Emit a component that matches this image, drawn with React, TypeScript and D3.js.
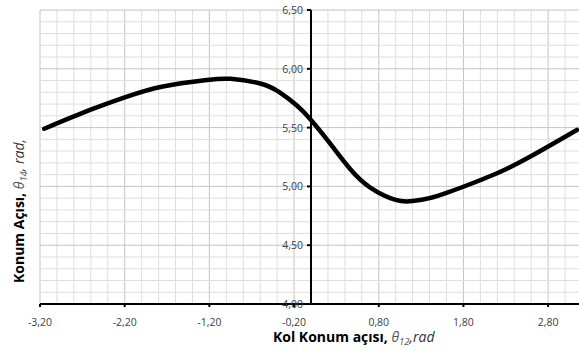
import React, { useEffect, useRef } from 'react';
import * as d3 from 'd3';

// curve
const theta12 = [-3.15, -2.61, -2.19, -1.75, -1.23, -0.95, -0.6, -0.37, -0.17, 0, 0.22, 0.46, 0.7, 1.0, 1.2, 1.4, 1.6, 1.79, 2.19, 2.58, 3.14];
const theta14 = [5.49, 5.65, 5.76, 5.85, 5.905, 5.915, 5.875, 5.8, 5.69, 5.565, 5.37, 5.15, 4.99, 4.885, 4.875, 4.9, 4.945, 4.995, 5.11, 5.25, 5.48];

const xTicks = [-3.2, -2.2, -1.2, -0.2, 0.8, 1.8, 2.8];
const yTicks = [4.0, 4.5, 5.0, 5.5, 6.0, 6.5];

const fmt = (v: number) => v.toFixed(2).replace('.', ',');

const App = () => {
    const svgRef = useRef<SVGSVGElement | null>(null);

    const W = 579;
    const H = 353;

    useEffect(() => {
        const svg = d3.select(svgRef.current);
        svg.selectAll('*').remove();

        const x = d3.scaleLinear().domain([-3.2, 3.2]).range([40, 582]);
        const y = d3.scaleLinear().domain([4.0, 6.5]).range([304, 10]);

        const grid = svg.append('g');

        // minor grid, every 0.2 on x and 0.1 on y
        const xMinor = d3.range(0, 33).map((i) => -3.2 + i * 0.2);
        const yMinor = d3.range(0, 26).map((i) => 4.0 + i * 0.1);

        grid.selectAll('.vx')
            .data(xMinor)
            .enter()
            .append('line')
            .attr('x1', (d) => x(d))
            .attr('x2', (d) => x(d))
            .attr('y1', y(6.5))
            .attr('y2', y(4.0))
            .attr('stroke', (d, i) => (i % 5 === 0 ? '#c4c4c4' : '#dedede'))
            .attr('stroke-width', 1);

        grid.selectAll('.hy')
            .data(yMinor)
            .enter()
            .append('line')
            .attr('x1', x(-3.2))
            .attr('x2', W)
            .attr('y1', (d) => y(d))
            .attr('y2', (d) => y(d))
            .attr('stroke', (d, i) => (i % 5 === 0 ? '#c4c4c4' : '#dedede'))
            .attr('stroke-width', 1);

        // the curve
        const line = d3.line<number>()
            .x((d, i) => x(theta12[i]))
            .y((d) => y(d))
            .curve(d3.curveNatural);

        svg.append('path')
            .datum(theta14)
            .attr('fill', 'none')
            .attr('stroke', '#000')
            .attr('stroke-width', 4.5)
            .attr('stroke-linecap', 'round')
            .attr('d', line);

        // x axis at y = 4.00
        const xAxis = svg.append('g');
        xAxis.append('line')
            .attr('x1', x(-3.2))
            .attr('x2', W)
            .attr('y1', y(4.0))
            .attr('y2', y(4.0))
            .attr('stroke', '#000')
            .attr('stroke-width', 2);
        xAxis.selectAll('.xt')
            .data(xTicks)
            .enter()
            .append('line')
            .attr('x1', (d) => x(d))
            .attr('x2', (d) => x(d))
            .attr('y1', y(4.0))
            .attr('y2', y(4.0) + 3)
            .attr('stroke', '#000')
            .attr('stroke-width', 2);
        xAxis.selectAll('.xl')
            .data(xTicks)
            .enter()
            .append('text')
            .attr('x', (d) => x(d))
            .attr('y', 326)
            .attr('text-anchor', 'middle')
            .attr('font-family', 'Open Sans, sans-serif')
            .attr('font-size', 10.5)
            .attr('fill', '#404040')
            .text((d) => fmt(d));

        // y axis at x = 0
        const yAxis = svg.append('g');
        yAxis.append('line')
            .attr('x1', x(0))
            .attr('x2', x(0))
            .attr('y1', y(6.5))
            .attr('y2', y(4.0))
            .attr('stroke', '#000')
            .attr('stroke-width', 2);
        yAxis.selectAll('.yt')
            .data(yTicks)
            .enter()
            .append('line')
            .attr('x1', x(0) - 4)
            .attr('x2', x(0))
            .attr('y1', (d) => y(d))
            .attr('y2', (d) => y(d))
            .attr('stroke', '#000')
            .attr('stroke-width', 2);
        yAxis.selectAll('.yl')
            .data(yTicks)
            .enter()
            .append('text')
            .attr('x', x(0) - 8)
            .attr('y', (d) => y(d) + 4)
            .attr('text-anchor', 'end')
            .attr('font-family', 'Open Sans, sans-serif')
            .attr('font-size', 10.5)
            .attr('fill', '#404040')
            .text((d) => fmt(d));

        // axis titles
        const xt = svg.append('text')
            .attr('x', 273)
            .attr('y', 342)
            .attr('font-family', 'Open Sans, sans-serif')
            .attr('font-size', 14)
            .attr('fill', '#000');
        xt.append('tspan').attr('font-weight', 'bold').text('Kol Konum açısı, ');
        xt.append('tspan').attr('font-style', 'italic').attr('fill', '#555').text('θ');
        xt.append('tspan').attr('font-style', 'italic').attr('fill', '#555').attr('font-size', 9.5).attr('dy', 3).text('12');
        xt.append('tspan').attr('font-style', 'italic').attr('fill', '#333').attr('dy', -3).text(',rad');

        const yt = svg.append('text')
            .attr('transform', 'translate(24, 283) rotate(-90)')
            .attr('font-family', 'Open Sans, sans-serif')
            .attr('font-size', 14)
            .attr('fill', '#000');
        yt.append('tspan').attr('font-weight', 'bold').text('Konum Açısı, ');
        yt.append('tspan').attr('font-style', 'italic').attr('fill', '#555').text(' θ');
        yt.append('tspan').attr('font-style', 'italic').attr('fill', '#555').attr('font-size', 9.5).attr('dy', 3).text('14');
        yt.append('tspan').attr('font-style', 'italic').attr('fill', '#333').attr('dy', -3).text(', rad,');
    }, []);

    return (
        <svg ref={svgRef} width={W} height={H} style={{ position: 'absolute', left: 0, top: 0 }}></svg>
    );
};

export default App;
